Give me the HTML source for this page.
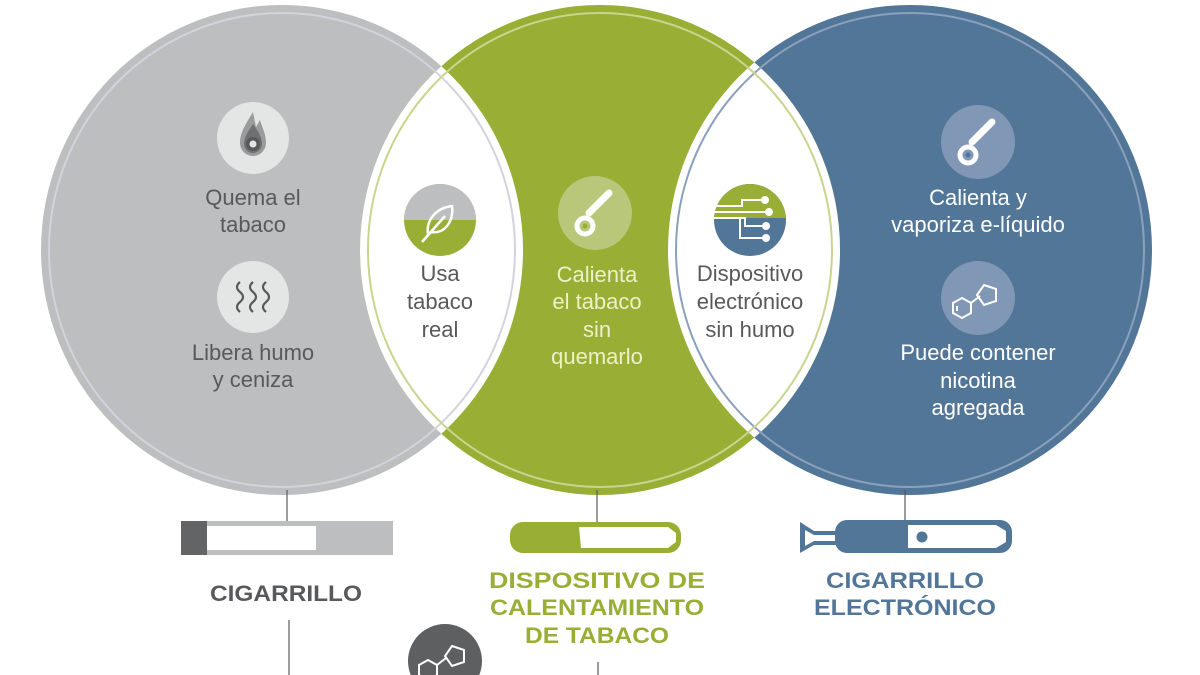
<!DOCTYPE html>
<html><head><meta charset="utf-8"><style>
html,body{margin:0;padding:0;background:#fff;width:1200px;height:675px;overflow:hidden}
svg{display:block}
text{font-family:"Liberation Sans",sans-serif;text-anchor:middle}
</style></head><body>
<svg width="1200" height="675" viewBox="0 0 1200 675" xmlns="http://www.w3.org/2000/svg">
<defs>
<clipPath id="cg"><ellipse cx="282" cy="250" rx="241" ry="245"/></clipPath>
<clipPath id="cb"><ellipse cx="910" cy="250" rx="242" ry="245"/></clipPath>
</defs>
<ellipse cx="282" cy="250" rx="241" ry="245" fill="#bdbebf"/>
<ellipse cx="910" cy="250" rx="242" ry="245" fill="#527698"/>
<ellipse cx="600" cy="250" rx="240" ry="245" fill="#98ae35"/>
<g clip-path="url(#cg)"><ellipse cx="600" cy="250" rx="240" ry="245" fill="#fff"/></g>
<g clip-path="url(#cb)"><ellipse cx="600" cy="250" rx="240" ry="245" fill="#fff"/></g>
<ellipse cx="282" cy="250" rx="233" ry="237" fill="none" stroke="#d2d3dc" stroke-width="2"/>
<ellipse cx="910" cy="250" rx="234" ry="237" fill="none" stroke="#8aa0bc" stroke-width="2"/>
<ellipse cx="600" cy="250" rx="232" ry="237" fill="none" stroke="#c9d48e" stroke-width="2"/>

<circle cx="253" cy="138" r="36" fill="#e4e5e5"/>
<path d="M253 112 C246 124 240 132 240 143 A13 13 0 0 0 266 143 C266 134 262 127 260 120 L256 127 Z" fill="#9a9b9d"/>
<path d="M253 124 C248 132 244 137 244 144 A9 9 0 0 0 262 144 C262 137 258 131 253 124Z" fill="#6f7072"/>
<circle cx="253" cy="144" r="7" fill="#58595b"/><circle cx="253" cy="144" r="3.5" fill="#e4e5e5"/>
<text x="253" y="205" font-size="22" fill="#58595b">Quema el</text>
<text x="253" y="232" font-size="22" fill="#58595b">tabaco</text>
<circle cx="253" cy="297" r="36" fill="#e4e5e5"/>
<g fill="none" stroke="#58595b" stroke-width="2.2">
<path d="M240 282 q-6 5 0 10 q6 5 0 10 q-6 5 0 10"/>
<path d="M253 282 q-6 5 0 10 q6 5 0 10 q-6 5 0 10"/>
<path d="M266 282 q-6 5 0 10 q6 5 0 10 q-6 5 0 10"/>
</g>
<text x="253" y="360" font-size="22" fill="#58595b">Libera humo</text>
<text x="253" y="387" font-size="22" fill="#58595b">y ceniza</text>

<clipPath id="lt"><rect x="400" y="180" width="80" height="40"/></clipPath>
<circle cx="440" cy="220" r="36" fill="#98ae35"/>
<circle cx="440" cy="220" r="36" fill="#bdbebf" clip-path="url(#lt)"/>
<path d="M428 234 C426 220 436 208 452 206 C454 222 444 234 432 232 Z" fill="none" stroke="#fff" stroke-width="2.5"/>
<path d="M422 242 L445 216" stroke="#fff" stroke-width="2.5"/>
<text x="440" y="281" font-size="22" fill="#58595b">Usa</text>
<text x="440" y="309" font-size="22" fill="#58595b">tabaco</text>
<text x="440" y="337" font-size="22" fill="#58595b">real</text>

<circle cx="595" cy="213" r="37" fill="#b9c77a"/>
<g stroke="#fff" fill="none">
<path d="M589 213 L609 193" stroke-width="7" stroke-linecap="round"/>
<circle cx="585" cy="226" r="8" stroke-width="5"/>
</g>
<circle cx="585" cy="226" r="2.5" fill="#98ae35"/>
<text x="597" y="282" font-size="22" fill="#eef0c9">Calienta</text>
<text x="597" y="309" font-size="22" fill="#eef0c9">el tabaco</text>
<text x="597" y="337" font-size="22" fill="#eef0c9">sin</text>
<text x="597" y="364" font-size="22" fill="#eef0c9">quemarlo</text>

<clipPath id="lt2"><rect x="710" y="180" width="80" height="38"/></clipPath>
<circle cx="750" cy="220" r="36" fill="#527698"/>
<circle cx="750" cy="220" r="36" fill="#98ae35" clip-path="url(#lt2)"/>
<g stroke="#fff" stroke-width="2" fill="none">
<path d="M714 206 H742 V200 H762"/><path d="M714 212 H766"/><path d="M714 218 H745 V226 H762"/><path d="M740 218 V238 H763"/>
</g>
<g fill="#fff"><circle cx="765" cy="200" r="4"/><circle cx="769" cy="212" r="4"/><circle cx="766" cy="226" r="4"/><circle cx="766" cy="238" r="4"/></g>
<text x="750" y="281" font-size="22" fill="#58595b">Dispositivo</text>
<text x="750" y="309" font-size="22" fill="#58595b">electrónico</text>
<text x="750" y="337" font-size="22" fill="#58595b">sin humo</text>

<circle cx="978" cy="142" r="37" fill="#8097b5"/>
<g stroke="#fff" fill="none">
<path d="M972 142 L992 122" stroke-width="7" stroke-linecap="round"/>
<circle cx="968" cy="155" r="8" stroke-width="5"/>
</g>
<circle cx="968" cy="155" r="2.5" fill="#527698"/>
<text x="978" y="205" font-size="22" fill="#fff">Calienta y</text>
<text x="978" y="232" font-size="22" fill="#fff">vaporiza e-líquido</text>
<circle cx="978" cy="298" r="37" fill="#8097b5"/>
<g stroke="#fff" stroke-width="2" fill="none">
<polygon points="962,298 971,303 971,313 962,318 953,313 953,303"/>
<path d="M957 306 V311"/>
<path d="M971 303 L980 296"/>
<polygon points="984,285 996,289 996,301 984,305 977,295"/>
</g>
<text x="978" y="360" font-size="22" fill="#fff">Puede contener</text>
<text x="978" y="388" font-size="22" fill="#fff">nicotina</text>
<text x="978" y="415" font-size="22" fill="#fff">agregada</text>

<g stroke="#58595b" stroke-width="1.2">
<line x1="287" y1="490" x2="287" y2="522"/>
<line x1="597" y1="490" x2="597" y2="522"/>
<line x1="905" y1="490" x2="905" y2="522"/>
<line x1="289" y1="620" x2="289" y2="675"/>
<line x1="598" y1="662" x2="598" y2="675"/>
</g>

<rect x="181" y="521" width="212" height="34" fill="#bdbebf"/>
<rect x="181" y="521" width="26" height="34" fill="#636466"/>
<rect x="207" y="526" width="109" height="24" fill="#fff"/>
<rect x="510" y="522" width="171" height="31" rx="13" fill="#98ae35"/>
<path d="M579 527 H668 L676 533 V542 L668 548 H581 Z" fill="#fff"/>
<path d="M800 522 L814 531 H836 V545 H814 L800 553 Z" fill="#527698"/>
<path d="M805 530 L814 535 H836 V541 H814 L805 546 Z" fill="#fff"/>
<rect x="835" y="520" width="177" height="33" rx="12" fill="#527698"/>
<path d="M908 525 H996 L1006 531 V542 L996 548 H908 Z" fill="#fff"/>
<circle cx="922" cy="537" r="5.5" fill="#527698"/>

<g font-weight="bold" font-size="22">
<text x="286" y="601" fill="#58595b" textLength="152" lengthAdjust="spacingAndGlyphs">CIGARRILLO</text>
<text x="597" y="588" fill="#98ae35" textLength="216" lengthAdjust="spacingAndGlyphs">DISPOSITIVO DE</text>
<text x="597" y="615" fill="#98ae35" textLength="214" lengthAdjust="spacingAndGlyphs">CALENTAMIENTO</text>
<text x="597" y="643" fill="#98ae35" textLength="144" lengthAdjust="spacingAndGlyphs">DE TABACO</text>
<text x="905" y="588" fill="#527698" textLength="158" lengthAdjust="spacingAndGlyphs">CIGARRILLO</text>
<text x="905" y="615" fill="#527698" textLength="182" lengthAdjust="spacingAndGlyphs">ELECTRÓNICO</text>
</g>

<circle cx="445" cy="661" r="37" fill="#5e5f61"/>
<g stroke="#fff" stroke-width="2" fill="none">
<polygon points="428,660 437,665 437,675 428,680 419,675 419,665"/>
<path d="M437 665 L446 658"/>
<polygon points="452,646 464,650 464,662 452,666 445,656"/>
</g>
</svg>
</body></html>
